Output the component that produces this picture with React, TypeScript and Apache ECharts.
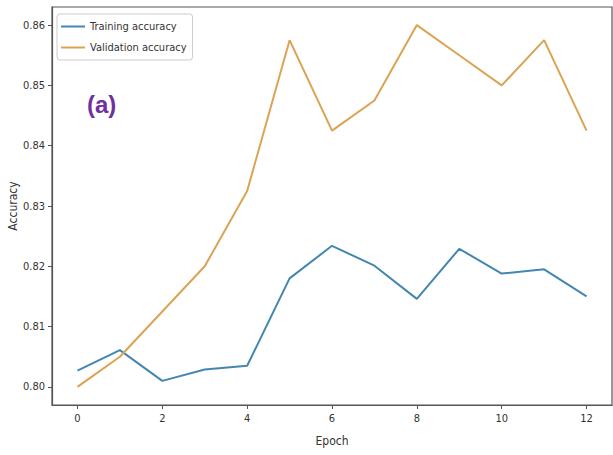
import React, { useEffect, useRef } from "react";
import * as echarts from "echarts";

// Accuracy per epoch
const epochs = [0, 1, 2, 3, 4, 5, 6, 7, 8, 9, 10, 11, 12];
const trainingAccuracy = [
  0.8027, 0.8061, 0.801, 0.8029, 0.8035, 0.818, 0.8234, 0.8201, 0.8146, 0.8229,
  0.8188, 0.8195, 0.815,
];
const validationAccuracy = [
  0.8, 0.805, 0.8125, 0.82, 0.8325, 0.8575, 0.8425, 0.8475, 0.86, 0.855, 0.85,
  0.8575, 0.8425,
];
const xTicks = [0, 2, 4, 6, 8, 10, 12];
const yTicks = [0.8, 0.81, 0.82, 0.83, 0.84, 0.85, 0.86];

const FONT = "'DejaVu Sans Condensed', 'Liberation Sans Narrow', 'DejaVu Sans', sans-serif";
const BLUE = "#4387b0";
const ORANGE = "#dba353";

export default function App() {
  const ref = useRef<HTMLDivElement>(null);

  useEffect(() => {
    document.body.style.margin = "0";
    const chart = echarts.init(ref.current!, null, { renderer: "svg" });
    chart.setOption({
      animation: false,
      backgroundColor: "#fff",
      grid: {
        left: 52,
        right: 1,
        top: 7,
        bottom: 50,
        outerBoundsMode: "none",
        containLabel: false,
        show: true,
        borderColor: "#555",
        borderWidth: 1.2,
        backgroundColor: "transparent",
      },
      legend: {
        left: 57,
        top: 14,
        orient: "vertical",
        itemWidth: 24,
        itemHeight: 12,
        itemGap: 10,
        padding: [7, 6, 7, 3],
        borderColor: "#ccc",
        borderWidth: 1,
        borderRadius: 3,
        backgroundColor: "#fff",
        itemStyle: { opacity: 0 },
        textStyle: { fontFamily: FONT, fontSize: 11, color: "#333" },
        data: ["Training accuracy", "Validation accuracy"],
      },
      xAxis: {
        type: "value",
        min: -0.6,
        max: 12.6,
        name: "Epoch",
        nameLocation: "middle",
        nameGap: 30,
        nameMoveOverlap: false,
        nameTextStyle: { fontFamily: FONT, fontSize: 12, color: "#333" },
        splitLine: { show: false },
        axisLine: { show: true, onZero: false, lineStyle: { color: "#555", width: 1.2 } },
        axisTick: {
          show: true,
          length: 4,
          customValues: xTicks,
          lineStyle: { color: "#555" },
        },
        axisLabel: {
          customValues: xTicks,
          margin: 8,
          fontFamily: FONT,
          fontSize: 11,
          color: "#333",
          formatter: (v: number) => String(v),
        },
      },
      yAxis: {
        type: "value",
        min: 0.797,
        max: 0.863,
        name: "Accuracy",
        nameLocation: "middle",
        nameRotate: 90,
        nameGap: 33,
        nameMoveOverlap: false,
        nameTextStyle: { fontFamily: FONT, fontSize: 12, color: "#333" },
        splitLine: { show: false },
        axisLine: { show: true, onZero: false, lineStyle: { color: "#555", width: 1.2 } },
        axisTick: {
          show: true,
          length: 4,
          customValues: yTicks,
          lineStyle: { color: "#555" },
        },
        axisLabel: {
          customValues: yTicks,
          margin: 7,
          fontFamily: FONT,
          fontSize: 11,
          color: "#333",
          formatter: (v: number) => v.toFixed(2),
        },
      },
      graphic: [
        {
          type: "text",
          left: 87,
          top: 92,
          style: {
            text: "(a)",
            fontFamily: "'Liberation Sans', Arial, sans-serif",
            fontWeight: "bold",
            fontSize: 24,
            fill: "#7030a0",
          },
        },
      ],
      series: [
        {
          name: "Training accuracy",
          type: "line",
          symbol: "none",
          color: BLUE,
          lineStyle: { width: 2, color: BLUE },
          data: epochs.map((e, i) => [e, trainingAccuracy[i]]),
        },
        {
          name: "Validation accuracy",
          type: "line",
          symbol: "none",
          color: ORANGE,
          lineStyle: { width: 2, color: ORANGE },
          data: epochs.map((e, i) => [e, validationAccuracy[i]]),
        },
      ],
    });
    return () => chart.dispose();
  }, []);

  return (
    <div
      ref={ref}
      style={{ position: "absolute", left: 0, top: 0, width: 613, height: 455 }}
    />
  );
}
